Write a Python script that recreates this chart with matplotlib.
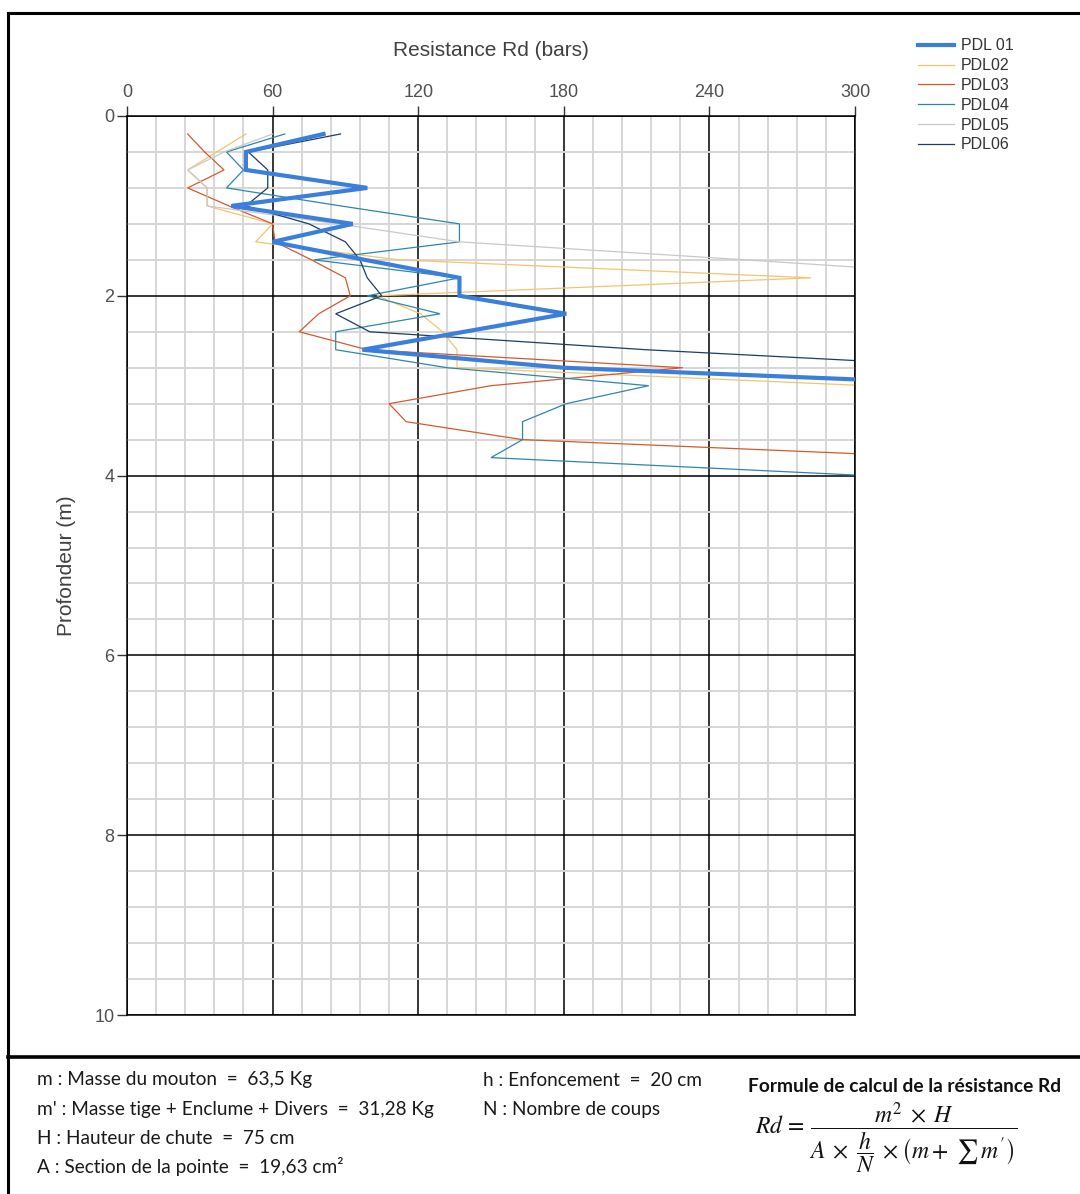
import numpy as np
import matplotlib
matplotlib.use("Agg")
import matplotlib.pyplot as plt
from matplotlib.lines import Line2D
from matplotlib.ticker import MultipleLocator

nan = np.nan

# Penetrometer depths (m) and dynamic resistance Rd (bars) for each sounding
profondeur = [0.2, 0.4, 0.6, 0.8, 1.0, 1.2, 1.4, 1.6, 1.8, 2.0,
              2.2, 2.4, 2.6, 2.8, 3.0, 3.2, 3.4, 3.6, 3.8, 4.0]

pdl01 = [81, 49, 49, 99, 43, 93, 60, 98, 137, 137,
         181, 139, 97, 180, 365, nan, nan, nan, nan, nan]
pdl02 = [49, 37, 25, 33, 33, 60, 53, 112, 282, 103,
         121, 130, 136, 136, 305, nan, nan, nan, nan, nan]
pdl03 = [25, 32, 40, 25, 42, 60, 61, 76, 90, 92,
         79, 71, 99, 229, 150, 108, 115, 163, 339, nan]
pdl04 = [65, 41, 48, 41, 88, 137, 137, 77, 137, 99,
         129, 86, 86, 132, 215, 181, 163, 163, 150, 305]
pdl05 = [60, 40, 25, 33, 33, 87, 137, 255, 367, nan,
         nan, nan, nan, nan, nan, nan, nan, nan, nan, nan]
pdl06 = [88, 50, 58, 58, 49, 75, 90, 96, 99, 105,
         86, 100, 214, 357, nan, nan, nan, nan, nan, nan]

noms = ["PDL 01", "PDL02", "PDL03", "PDL04", "PDL05", "PDL06"]
series = [pdl01, pdl02, pdl03, pdl04, pdl05, pdl06]
couleurs = ["#3b7fdc", "#f4c46e", "#d45a2c", "#2f86ad", "#c9c9c9", "#1f3d63"]
epaisseurs = [3.0, 0.9, 0.9, 0.9, 0.9, 0.9]

x_ticks = [0, 60, 120, 180, 240, 300]
y_ticks = [0, 2, 4, 6, 8, 10]

W, H = 1080, 1194
fig = plt.figure(figsize=(W / 100, H / 100), dpi=100)
fig.patch.set_facecolor("white")

plt.rcParams["font.family"] = ["Liberation Sans", "DejaVu Sans"]

x0, x1, y0, y1 = 127, 855, 116, 1015
ax = fig.add_axes([x0 / W, 1 - y1 / H, (x1 - x0) / W, (y1 - y0) / H])

ax.set_xlim(0, 300)
ax.set_ylim(10, 0)

# Grid: light minor lines, black major lines
ax.xaxis.set_major_locator(MultipleLocator(60))
ax.xaxis.set_minor_locator(MultipleLocator(12))
ax.yaxis.set_major_locator(MultipleLocator(2))
ax.yaxis.set_minor_locator(MultipleLocator(0.4))
ax.grid(which="minor", color="#d6d6d6", linewidth=1.4, zorder=0)
ax.grid(which="major", color="black", linewidth=1.1, zorder=1)
ax.set_axisbelow(True)

for s in ax.spines.values():
    s.set_color("black")
    s.set_linewidth(1.1)

ax.xaxis.tick_top()
ax.xaxis.set_label_position("top")
ax.set_xticks(x_ticks)
ax.set_yticks(y_ticks)
ax.tick_params(which="major", direction="out", length=7, width=1.0,
               color="#333333", labelsize=13, labelcolor="#505050")
ax.tick_params(axis="x", pad=4)
ax.tick_params(axis="y", pad=2)
ax.tick_params(which="minor", length=0)

ax.set_xlabel("Resistance Rd (bars)", fontsize=15, color="#404040", labelpad=20)
ax.set_ylabel("Profondeur (m)", fontsize=15, color="#404040", labelpad=13)

for nom, vals, c, lw in zip(noms, series, couleurs, epaisseurs):
    ax.plot(vals, profondeur, color=c, linewidth=lw, label=nom,
            solid_joinstyle="miter", zorder=3 if lw > 2 else 2)

leg = fig.legend(loc="upper left", bbox_to_anchor=(912 / W, 1 - 32 / H),
                 frameon=False, fontsize=11.5, handlelength=2.2,
                 handletextpad=0.45, labelspacing=0.3, borderaxespad=0)
for t in leg.get_texts():
    t.set_color("#333333")

# Page frame and separator of the notes block
frame_kw = dict(color="black", linewidth=2.2, transform=fig.transFigure)
fig.add_artist(Line2D([8 / W, 8 / W], [1 - 13 / H, 0], **frame_kw))
fig.add_artist(Line2D([8 / W, 1], [1 - 13 / H, 1 - 13 / H], **frame_kw))
fig.add_artist(Line2D([8 / W, 1], [1 - 1057 / H, 1 - 1057 / H],
                      color="black", linewidth=2.6, transform=fig.transFigure))

# Notes on the test parameters
note_kw = dict(fontsize=13.7, family=["Lato", "DejaVu Sans"], color="#1a1a1a",
               va="center", ha="left")
fig.text(37 / W, 1 - 1080 / H, "m : Masse du mouton  =  63,5 Kg", **note_kw)
fig.text(37 / W, 1 - 1109 / H, "m' : Masse tige + Enclume + Divers  =  31,28 Kg", **note_kw)
fig.text(37 / W, 1 - 1138 / H, "H : Hauteur de chute  =  75 cm", **note_kw)
fig.text(37 / W, 1 - 1166 / H, "A : Section de la pointe  =  19,63 cm²", **note_kw)
fig.text(483 / W, 1 - 1080 / H, "h : Enfoncement  =  20 cm", **note_kw)
fig.text(483 / W, 1 - 1109 / H, "N : Nombre de coups", **note_kw)

fig.text(748 / W, 1 - 1086 / H, "Formule de calcul de la résistance Rd",
         fontsize=13.8, fontweight="bold", family=["Lato", "DejaVu Sans"],
         color="#111111", va="center", ha="left")

plt.rcParams["mathtext.fontset"] = "stix"
fig.text(755 / W, 1 - 1138 / H,
         r"$Rd\,=\,\dfrac{m^2\;\times\;H}{A\;\times\;\dfrac{h}{N}\;\times\left(m+\;\sum\, m^{\prime}\right)}$",
         fontsize=17, color="#111111", va="center", ha="left")

fig.savefig("out.png", dpi=100, facecolor="white")
